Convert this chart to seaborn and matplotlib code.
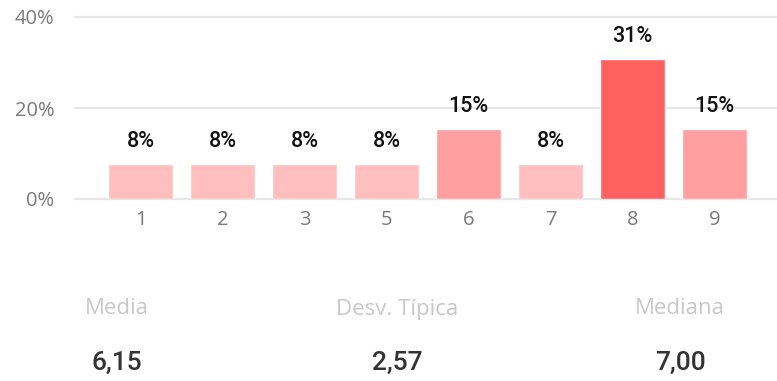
import matplotlib
matplotlib.use("Agg")
import matplotlib.pyplot as plt
import seaborn as sns
import pandas as pd

# Score distribution (share of answers per score) and summary statistics
scores = ["1", "2", "3", "5", "6", "7", "8", "9"]
shares = [7.69, 7.69, 7.69, 7.69, 15.38, 7.69, 30.77, 15.38]
share_labels = ["8%", "8%", "8%", "8%", "15%", "8%", "31%", "15%"]
bar_colors = ["#ffbfbf", "#ffbfbf", "#ffbfbf", "#ffbfbf",
              "#ff9f9f", "#ffbfbf", "#ff6161", "#ff9f9f"]
y_ticks = [0, 20, 40]
y_tick_labels = ["0%", "20%", "40%"]
stat_names = ["Media", "Desv. Típica", "Mediana"]
stat_values = ["6,15", "2,57", "7,00"]

sns.set_theme(style="white")
plt.rcParams["font.family"] = ["Open Sans", "DejaVu Sans"]

W, H, DPI = 777, 381, 100
fig = plt.figure(figsize=(W / DPI, H / DPI), dpi=DPI)
ax = fig.add_axes([75 / W, (H - 199) / H, 702 / W, 182 / H])

df = pd.DataFrame({"score": scores, "share": shares})
sns.barplot(data=df, x="score", y="share", hue="score", order=scores,
            palette=dict(zip(scores, bar_colors)), legend=False,
            width=0.79, saturation=1, ax=ax, zorder=3)

ax.set_ylim(0, 40)
ax.set_xlim(-0.80, 7.76)
ax.set_yticks(y_ticks)
ax.set_yticklabels(y_tick_labels)
ax.set_xlabel("")
ax.set_ylabel("")
for y in y_ticks:
    ax.axhline(y, color="#e6e6e6", lw=1.6, zorder=1, clip_on=False)
for s in ax.spines.values():
    s.set_visible(False)
ax.tick_params(axis="y", length=0, pad=15, labelsize=14.5, labelcolor="#7a7a7a")
ax.tick_params(axis="x", length=0, pad=8, labelsize=14.5, labelcolor="#7a7a7a")

for i, (v, lab) in enumerate(zip(shares, share_labels)):
    ax.annotate(lab, (i, v), xytext=(0, 16.5), textcoords="offset points",
                ha="center", va="center", fontsize=15.5, color="#111111",
                fontweight="medium", family=["Roboto", "DejaVu Sans"])

# Summary statistics below the chart
stat_x = [117, 397, 680]
for x, name, val in zip(stat_x, stat_names, stat_values):
    fig.text(x / W, 1 - 309 / H, name, ha="center", va="center",
             fontsize=16, color="#c8c8c8", family=["Open Sans", "DejaVu Sans"])
    fig.text(x / W, 1 - 363 / H, val, ha="center", va="center",
             fontsize=19, color="#333333", fontweight="medium",
             family=["Roboto", "DejaVu Sans"])

fig.savefig("out.png", dpi=DPI)
